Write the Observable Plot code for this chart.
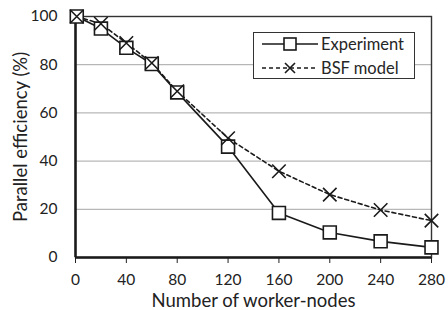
<!DOCTYPE html>
<html>
<head>
<meta charset="utf-8">
<script src="https://cdn.jsdelivr.net/npm/d3@7"></script>
<script src="https://cdn.jsdelivr.net/npm/@observablehq/plot@0.6"></script>
<style>
  html, body { margin: 0; padding: 0; background: #fff; }
  #wrap { position: relative; width: 448px; height: 310px; font-family: Lato, sans-serif; }
  #legend {
    position: absolute; left: 253px; top: 32px; width: 160px; height: 45px;
    border: 1.4px solid #333; background: #fff; color: #262626; font-size: 16.5px;
  }
  .row { position: absolute; left: 0; display: flex; align-items: center; height: 20px; }
  .row svg { margin-left: 8px; }
  .row span { margin-left: 3px; }
</style>
</head>
<body>
<div id="wrap"></div>
<script>
const workers = [1, 20, 40, 60, 80, 120, 160, 200, 240, 280];
const experiment = [100, 95, 87, 80.3, 68.5, 46, 18.5, 10.4, 6.7, 4.2];
const bsfModel = [100, 97, 89, 80.7, 69, 49.5, 35.8, 26.1, 19.7, 15.3];
const xTicks = [0, 40, 80, 120, 160, 200, 240, 280];
const yTicks = [0, 20, 40, 60, 80, 100];
const yGrid = [20, 40, 60, 80];
const seriesNames = ["Experiment", "BSF model"];
const xLabel = "Number of worker-nodes";
const yLabel = "Parallel efficiency (%)";

const expData = workers.map((w, i) => ({x: w, y: experiment[i]}));
const bsfData = workers.map((w, i) => ({x: w, y: bsfModel[i]}));

const chart = Plot.plot({
  width: 448,
  height: 310,
  marginLeft: 75,
  marginRight: 17,
  marginTop: 16,
  marginBottom: 53,
  style: {fontFamily: "Lato, sans-serif", fontSize: "15.5px", color: "#222", background: "#fff", overflow: "visible"},
  x: {domain: [0, 280]},
  y: {domain: [0, 100]},
  marks: [
    Plot.ruleY(yGrid, {stroke: "#a6a6a6", strokeWidth: 1}),
    Plot.frame({stroke: "#333", strokeWidth: 1.4}),
    Plot.axisX({ticks: xTicks, tickSize: 6, tickPadding: 10, tickFormat: d => String(d), label: null, fontSize: 15.5}),
    Plot.axisX({ticks: [], label: xLabel, labelAnchor: "center", labelOffset: 49, labelArrow: "none", dx: -8, fontSize: 18.5}),
    Plot.axisY({ticks: yTicks, tickSize: 0, tickPadding: 18, tickFormat: d => String(d), label: null, fontSize: 15.5}),
    Plot.axisY({ticks: [], label: yLabel, labelAnchor: "center", labelOffset: 62, labelArrow: "none", fontSize: 18.5}),
    Plot.ruleX([0], {stroke: "#1a1a1a", strokeWidth: 2.5}),
    Plot.ruleY([0], {stroke: "#1a1a1a", strokeWidth: 2.5}),
    Plot.line(bsfData, {x: "x", y: "y", stroke: "#1a1a1a", strokeWidth: 1.6, strokeDasharray: "4,3"}),
    Plot.line(expData, {x: "x", y: "y", stroke: "#1a1a1a", strokeWidth: 1.6}),
    Plot.dot(expData, {x: "x", y: "y", symbol: "square", r: 7.3, fill: "#fff", stroke: "#1a1a1a", strokeWidth: 1.6}),
    Plot.dot(bsfData, {x: "x", y: "y", symbol: "times", r: 6.2, stroke: "#1a1a1a", strokeWidth: 1.6})
  ]
});
document.getElementById("wrap").appendChild(chart);

// Legend
const legend = document.createElement("div");
legend.id = "legend";
const rows = [
  {name: seriesNames[0], top: 1, marker: "square", dash: null},
  {name: seriesNames[1], top: 25, marker: "times", dash: "4,3"}
];
for (const r of rows) {
  const row = document.createElement("div");
  row.className = "row";
  row.style.top = r.top + "px";
  const svg = d3.create("svg").attr("width", 56).attr("height", 20);
  svg.append("line").attr("x1", 0).attr("x2", 56).attr("y1", 10).attr("y2", 10)
    .attr("stroke", "#1a1a1a").attr("stroke-width", 1.6)
    .attr("stroke-dasharray", r.dash);
  if (r.marker === "square") {
    svg.append("rect").attr("x", 22).attr("y", 4).attr("width", 12).attr("height", 12)
      .attr("fill", "#fff").attr("stroke", "#1a1a1a").attr("stroke-width", 1.6);
  } else {
    svg.append("path").attr("d", "M23,5L33,15M23,15L33,5")
      .attr("stroke", "#1a1a1a").attr("stroke-width", 1.6);
  }
  row.appendChild(svg.node());
  const span = document.createElement("span");
  span.textContent = r.name;
  row.appendChild(span);
  legend.appendChild(row);
}
document.getElementById("wrap").appendChild(legend);
</script>
</body>
</html>
